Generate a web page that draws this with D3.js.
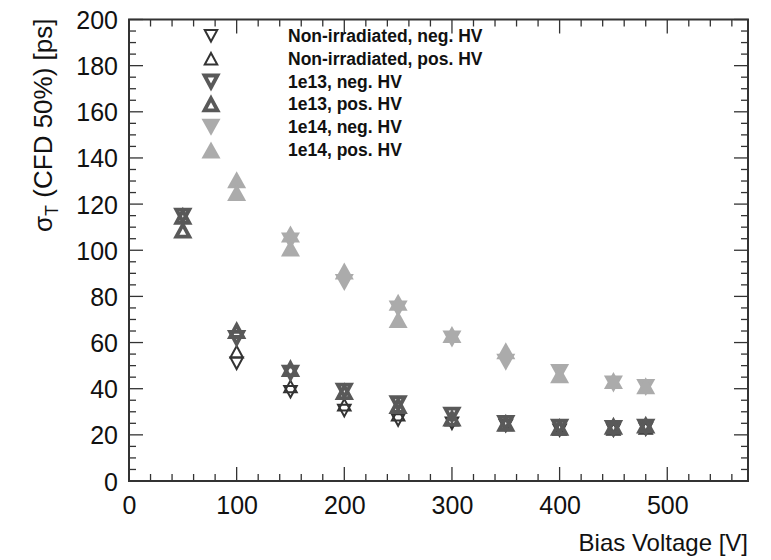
<!DOCTYPE html>
<html>
<head>
<meta charset="utf-8">
<script src="https://cdn.jsdelivr.net/npm/d3@7"></script>
<style>
  html, body { margin: 0; padding: 0; background: #fff; }
  svg { display: block; }
  text { font-family: "Liberation Sans", Arial, Helvetica, sans-serif; fill: #111; }
</style>
</head>
<body>
<svg id="chart" width="771" height="560"></svg>
<script>
// ---- data (bias voltage [V], sigma_T [ps]) ----
const niNegV      = [100, 150, 200, 250, 300, 350, 400, 450, 480];
const niNegSigma  = [51, 38.7, 30.5, 26.4, 25, 24, 22, 22, 22.5];
const niPosV      = [100, 150, 200, 250, 300, 350, 400, 450, 480];
const niPosSigma  = [56, 41, 33, 28.7, 26.5, 24.5, 22.5, 22.5, 23];
const e13NegV     = [50, 100, 150, 200, 250, 300, 350, 400, 450, 480];
const e13NegSigma = [115, 62, 47, 39.2, 33.7, 28.8, 25.2, 23.5, 23, 23.5];
const e13PosV     = [50, 50, 100, 150, 200, 250, 300, 350, 400, 450, 480];
const e13PosSigma = [114.5, 108.5, 65, 48.5, 38.5, 32.5, 27, 24.8, 23, 23.5, 24];
const e14NegV     = [150, 200, 250, 300, 350, 400, 450, 480];
const e14NegSigma = [104, 86, 74.5, 61.5, 51.5, 47, 42, 40.5];
const e14PosV     = [100, 100, 150, 150, 200, 250, 250, 300, 350, 400, 450, 480];
const e14PosSigma = [130.5, 125, 107, 101, 91, 77.5, 70, 63.5, 56.5, 46, 43.5, 41.3];

const seriesNames = ["Non-irradiated, neg. HV", "Non-irradiated, pos. HV",
                     "1e13, neg. HV", "1e13, pos. HV", "1e14, neg. HV", "1e14, pos. HV"];
const xTicks = [0, 100, 200, 300, 400, 500];
const yTicks = [0, 20, 40, 60, 80, 100, 120, 140, 160, 180, 200];
const xTitle = "Bias Voltage [V]";

// ---- styles ----
const styles = [
  { dir: "down", w: 12.5, h: 11.5, fill: "none", stroke: "#333", sw: 2 },
  { dir: "up",   w: 12.5, h: 11.5, fill: "none", stroke: "#333", sw: 2 },
  { dir: "down", w: 13, h: 12, fill: "none", stroke: "#595959", sw: 3.8 },
  { dir: "up",   w: 13, h: 12, fill: "none", stroke: "#595959", sw: 3.8 },
  { dir: "down", w: 19, h: 17, fill: "#ababab", stroke: "none", sw: 0 },
  { dir: "up",   w: 19, h: 17, fill: "#ababab", stroke: "none", sw: 0 }
];
const seriesData = [
  [niNegV, niNegSigma], [niPosV, niPosSigma],
  [e13NegV, e13NegSigma], [e13PosV, e13PosSigma],
  [e14NegV, e14NegSigma], [e14PosV, e14PosSigma]
];

const svg = d3.select("#chart");
const L = 129, R = 748, T = 19.5, B = 481;
const x = d3.scaleLinear().domain([0, 575]).range([L, R]);
const y = d3.scaleLinear().domain([0, 200]).range([B, T]);
const axisColor = "#333";

function tri(st) {
  const hw = st.w / 2, hh = st.h / 2;
  return st.dir === "up"
    ? `M0,${-hh}L${hw},${hh}L${-hw},${hh}Z`
    : `M0,${hh}L${hw},${-hh}L${-hw},${-hh}Z`;
}

// ---- axes (ROOT style: ticks inside, on all four sides) ----
const xMinor = d3.range(0, 576, 20);
const yMinor = d3.range(0, 201, 5);
const g = svg.append("g");
function tickLines(vals, isMajor, orient) {
  vals.forEach(v => {
    const len = isMajor(v) ? 14 : 7;
    if (orient === "x") {
      const px = x(v);
      g.append("line").attr("x1", px).attr("x2", px).attr("y1", B).attr("y2", B - len)
        .attr("stroke", axisColor).attr("stroke-width", 1.3);
      g.append("line").attr("x1", px).attr("x2", px).attr("y1", T).attr("y2", T + len)
        .attr("stroke", axisColor).attr("stroke-width", 1.3);
    } else {
      const py = y(v);
      g.append("line").attr("y1", py).attr("y2", py).attr("x1", L).attr("x2", L + len)
        .attr("stroke", axisColor).attr("stroke-width", 1.3);
      g.append("line").attr("y1", py).attr("y2", py).attr("x1", R).attr("x2", R - len)
        .attr("stroke", axisColor).attr("stroke-width", 1.3);
    }
  });
}
tickLines(xMinor, v => v % 100 === 0, "x");
tickLines(yMinor, v => v % 20 === 0, "y");

const xAxis = svg.append("g").attr("transform", `translate(0,${B})`)
  .call(d3.axisBottom(x).tickValues(xTicks).tickSize(0).tickPadding(0).tickFormat(d3.format("d")));
xAxis.select(".domain").remove();
xAxis.selectAll("text").attr("y", 33).attr("dy", 0).attr("font-size", 25)
  .style("font-family", "'Liberation Sans', Arial, sans-serif").attr("fill", "#111");

const yAxis = svg.append("g").attr("transform", `translate(${L},0)`)
  .call(d3.axisLeft(y).tickValues(yTicks).tickSize(0).tickPadding(0).tickFormat(d3.format("d")));
yAxis.select(".domain").remove();
yAxis.selectAll("text").attr("x", -11).attr("dy", 0).attr("y", 9).attr("font-size", 25)
  .style("font-family", "'Liberation Sans', Arial, sans-serif").attr("fill", "#111");

// frame
svg.append("rect").attr("x", L).attr("y", T).attr("width", R - L).attr("height", B - T)
  .attr("fill", "none").attr("stroke", axisColor).attr("stroke-width", 2);

// axis titles
svg.append("text").attr("x", R).attr("y", 551).attr("text-anchor", "end")
  .attr("font-size", 24).text(xTitle);

const yt = svg.append("text").attr("transform", `translate(52,${T - 1}) rotate(-90)`)
  .attr("text-anchor", "end").attr("font-size", 26);
yt.append("tspan").text("σ");
yt.append("tspan").attr("font-size", 18).attr("dy", 6).text("T");
yt.append("tspan").attr("dy", -6).text(" (CFD 50%) [ps]");

// ---- data markers ----
seriesData.forEach((sd, i) => {
  const st = styles[i];
  const pts = sd[0].map((v, k) => [v, sd[1][k]]);
  svg.append("g").selectAll("path").data(pts).join("path")
    .attr("d", tri(st))
    .attr("transform", d => `translate(${x(d[0])},${y(d[1])})`)
    .attr("fill", st.fill).attr("stroke", st.stroke).attr("stroke-width", st.sw)
    .attr("stroke-linejoin", "miter");
});

// ---- legend ----
const legY0 = 35.8, legDY = 22.85;
seriesNames.forEach((name, i) => {
  const st = styles[i];
  const cy = legY0 + i * legDY;
  svg.append("path").attr("d", tri(st)).attr("transform", `translate(211,${cy})`)
    .attr("fill", st.fill).attr("stroke", st.stroke).attr("stroke-width", st.sw);
  svg.append("text").attr("x", 288).attr("y", cy + 6).attr("font-size", 17.5)
    .attr("font-weight", "bold").text(name);
});
</script>
</body>
</html>
